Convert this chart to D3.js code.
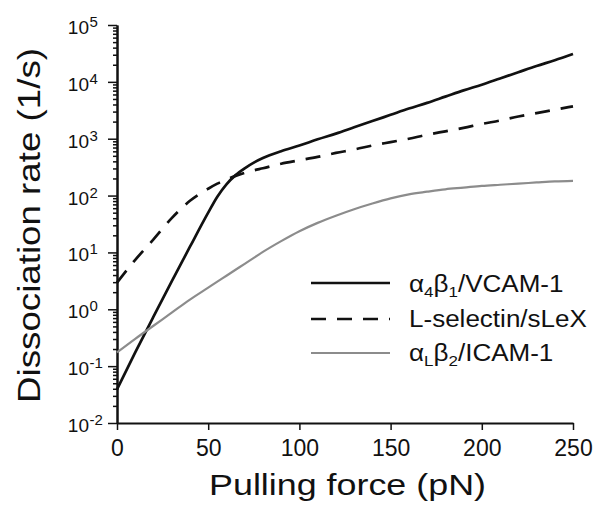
<!DOCTYPE html>
<html>
<head>
<meta charset="utf-8">
<script src="https://cdn.jsdelivr.net/npm/d3@7"></script>
<style>
  html, body { margin: 0; padding: 0; background: #fff; }
  svg text { font-family: "Liberation Sans", Arial, Helvetica, sans-serif; fill: #111; }
</style>
</head>
<body>
<svg id="chart" width="602" height="510"></svg>
<script>
// ---- data ----
const force = [0, 10, 20, 30, 40, 50, 55, 60, 65, 70, 75, 80, 90, 100, 110, 120, 130, 140, 150, 160, 170, 180, 190, 200, 210, 220, 230, 240, 250];
const vcam  = [0.039, 0.174, 0.741, 3.09, 12.6, 50.1, 95.5, 158, 229, 302, 380, 457, 603, 759, 977, 1230, 1585, 2042, 2630, 3388, 4266, 5495, 7079, 8913, 11480, 14790, 19050, 23990, 30900];
const lsel  = [2.95, 7.4, 17, 40, 81, 132, 162, 191, 222, 251, 277, 302, 363, 417, 479, 562, 646, 759, 871, 1000, 1175, 1349, 1549, 1820, 2089, 2455, 2818, 3236, 3715];
const icam  = [0.174, 0.302, 0.513, 0.871, 1.48, 2.40, 3.06, 3.89, 4.95, 6.31, 8.0, 10.2, 15.8, 23.6, 33.1, 44.2, 57.5, 72.4, 89.1, 105, 117, 129, 138, 148, 155, 162, 170, 178, 182];
const xTicks = [0, 50, 100, 150, 200, 250];
const yExps  = [-2, -1, 0, 1, 2, 3, 4, 5];
const seriesNames = ["α4β1/VCAM-1", "L-selectin/sLeX", "αLβ2/ICAM-1"];

const svg = d3.select("#chart");
const x = d3.scaleLinear().domain([0, 250]).range([117, 573]);
const y = d3.scaleLog().domain([1e-2, 1e5]).range([423, 25]);

// ---- axes ----
const minorVals = [];
yExps.slice(0, -1).forEach(e => { for (let m = 2; m <= 9; m++) minorVals.push(m * Math.pow(10, e)); });
const majorVals = yExps.map(e => Math.pow(10, e));

const gyMinor = svg.append("g").attr("transform", "translate(117,0)")
  .call(d3.axisLeft(y).tickValues(minorVals).tickSize(4).tickSizeOuter(0).tickFormat(""));
const gyMajor = svg.append("g").attr("transform", "translate(117,0)")
  .call(d3.axisLeft(y).tickValues(majorVals).tickSize(9).tickSizeOuter(0).tickFormat(""));
[gyMinor, gyMajor].forEach(g => {
  g.selectAll("path.domain").attr("stroke", "#111").attr("stroke-width", 2);
  g.selectAll(".tick line").attr("stroke", "#111").attr("stroke-width", 1.5);
});

// y tick labels 10^n
const ylab = svg.append("g");
yExps.forEach(e => {
  const ty = y(Math.pow(10, e));
  ylab.append("text").attr("x", 89).attr("y", ty + 9).attr("text-anchor", "end")
    .attr("font-size", 19).text("10");
  ylab.append("text").attr("x", 89.5).attr("y", ty + 2).attr("text-anchor", "start")
    .attr("font-size", 15).text(String(e));
});

const gx = svg.append("g").attr("transform", "translate(0,423)")
  .call(d3.axisBottom(x).tickValues(xTicks).tickSize(7).tickSizeOuter(0).tickPadding(10).tickFormat(d3.format("d")));
gx.selectAll("path.domain").attr("stroke", "#111").attr("stroke-width", 2);
gx.selectAll(".tick line").attr("stroke", "#111").attr("stroke-width", 1.5);
gx.selectAll(".tick text").attr("font-size", 23).attr("font-family", "Liberation Sans, Arial, sans-serif").attr("fill", "#111");

// fit-width helper (reference glyphs are a bit wider than Arial)
function fit(sel, target) {
  const w = sel.node().getComputedTextLength();
  return target / w;
}

// axis titles
const xt = svg.append("text").attr("font-size", 30).attr("text-anchor", "middle").text("Pulling force (pN)");
const sx = fit(xt, 277);
xt.attr("transform", `translate(347.5,494.5) scale(${sx},1)`);

const yt = svg.append("text").attr("font-size", 31).attr("text-anchor", "middle").text("Dissociation rate (1/s)");
const sy = fit(yt, 355);
yt.attr("transform", `translate(40,225.5) rotate(-90) scale(${sy},1)`);

// ---- lines ----
const line = d3.line().x((d, i) => x(force[i])).y(d => y(d)).curve(d3.curveMonotoneX);
const styles = [
  { data: vcam, stroke: "#111", width: 2.7, dash: null },
  { data: lsel, stroke: "#111", width: 2.7, dash: "15,11" },
  { data: icam, stroke: "#8c8c8c", width: 2.2, dash: null }
];
const plot = svg.append("g");
styles.forEach(s => {
  plot.append("path").attr("d", line(s.data)).attr("fill", "none")
    .attr("stroke", s.stroke).attr("stroke-width", s.width)
    .attr("stroke-dasharray", s.dash);
});

// ---- legend ----
const legY = [283, 319, 353];
const leg = svg.append("g");
styles.forEach((s, i) => {
  leg.append("line").attr("x1", 311).attr("x2", 390).attr("y1", legY[i]).attr("y2", legY[i])
    .attr("stroke", s.stroke).attr("stroke-width", s.width).attr("stroke-dasharray", s.dash);
});
function addLegendText(parts) {
  const t = leg.append("text").attr("font-size", 23);
  parts.forEach(p => {
    const ts = t.append("tspan").text(p.t);
    if (p.sub) ts.attr("font-size", 15).attr("dy", 5);
    if (p.back) ts.attr("dy", -5);
  });
  return t;
}
const t1 = addLegendText([{t: "α"}, {t: "4", sub: true}, {t: "β", back: true}, {t: "1", sub: true}, {t: "/VCAM-1", back: true}]);
const t2 = addLegendText([{t: seriesNames[1]}]);
const t3 = addLegendText([{t: "α"}, {t: "L", sub: true}, {t: "β", back: true}, {t: "2", sub: true}, {t: "/ICAM-1", back: true}]);
const ls = fit(t2, 178);
t1.attr("transform", `translate(409,291.5) scale(${ls},1)`);
t2.attr("transform", `translate(409,327) scale(${ls},1)`);
t3.attr("transform", `translate(409,360.5) scale(${ls},1)`);
</script>
</body>
</html>
